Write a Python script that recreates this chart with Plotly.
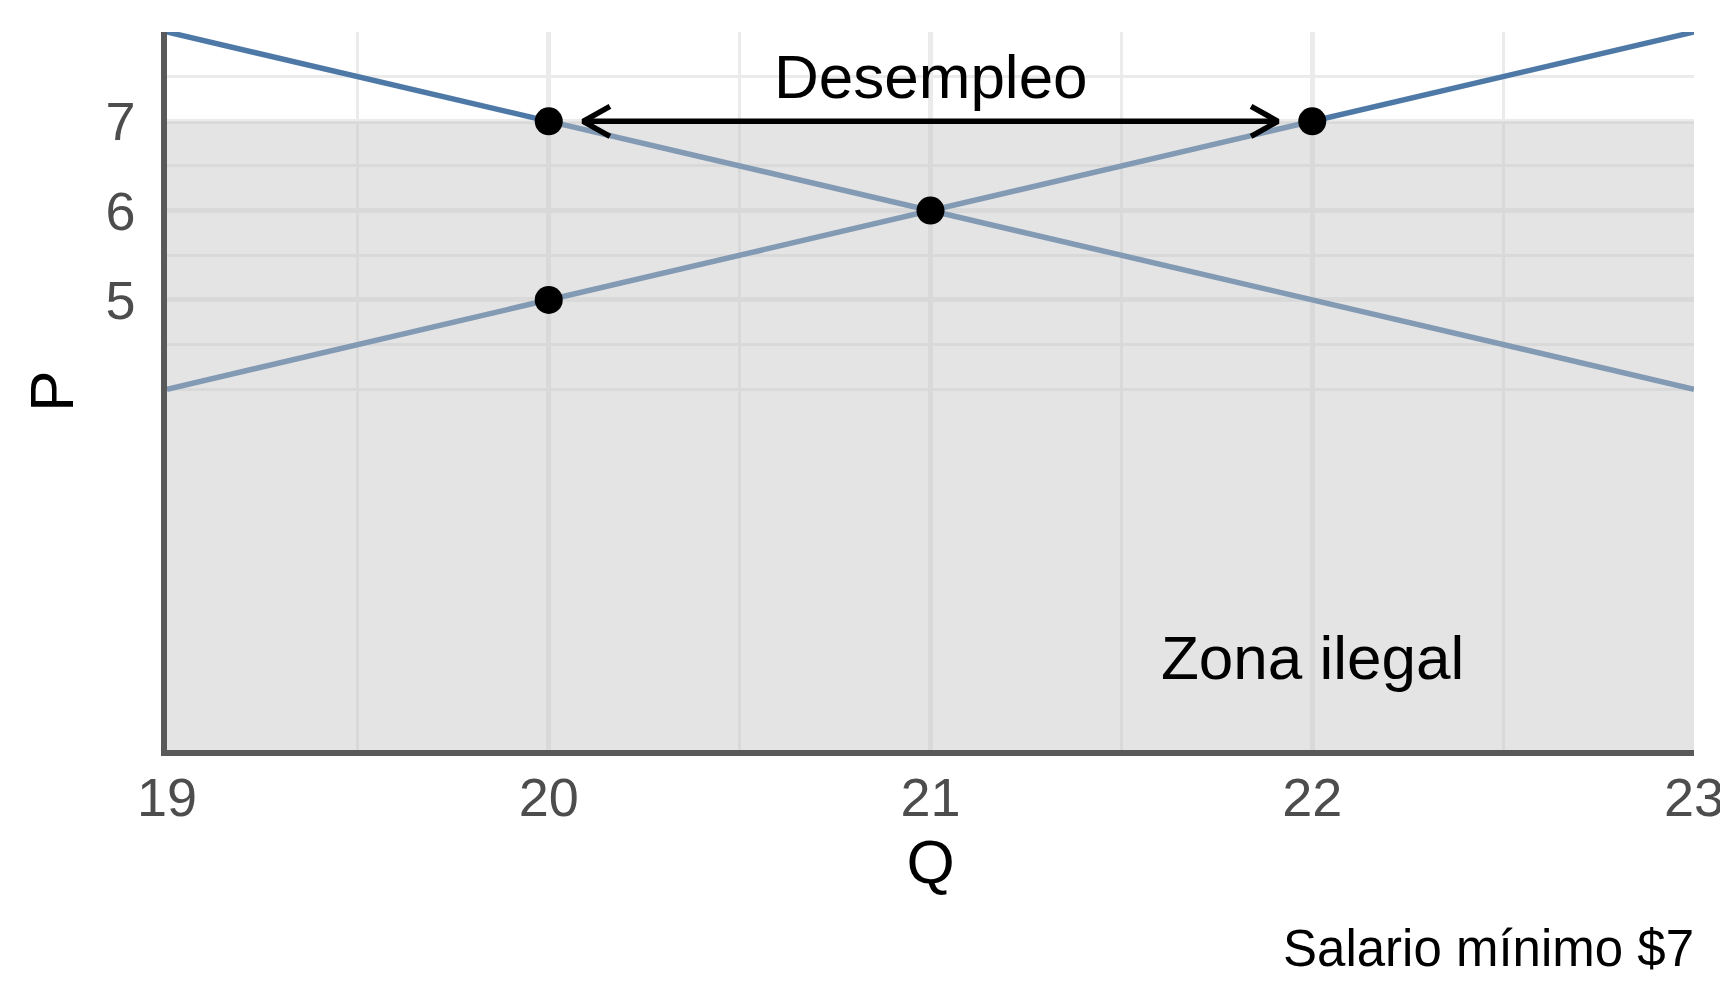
import plotly.graph_objects as go

# ---- data ----
q = [19, 20, 21, 22, 23]
demanda = [8, 7, 6, 5, 4]
oferta = [4, 5, 6, 7, 8]
puntos_q = [20, 21, 22, 20]
puntos_p = [7, 6, 7, 5]
salario_minimo = 7
flecha_q = [20.09, 21.91]
x_ticks = [19, 20, 21, 22, 23]
y_ticks = [5, 6, 7]
x_minor = [19.5, 20.5, 21.5, 22.5]
y_minor = [4, 4.5, 5.5, 6.5, 7.5, 8]
x_range = [19, 23]
y_range = [-0.04, 8]

# ---- layout geometry ----
W, H = 1728, 1000
ML, MR, MT, MB = 159, 32, 24, 258
PW, PH = W - ML - MR, H - MT - MB
px_x = (x_range[1] - x_range[0]) / PW
px_y = (y_range[1] - y_range[0]) / PH

FONT = "Liberation Sans, Arial, sans-serif"
LINE_COLOR = "#4E79A7"

fig = go.Figure()

# demand / supply lines
for serie in (demanda, oferta):
    fig.add_trace(go.Scatter(x=q, y=serie, mode="lines",
                             line=dict(color=LINE_COLOR, width=5.5), hoverinfo="skip",
                             showlegend=False))

# illegal zone (semi-transparent, drawn above the lines)
fig.add_trace(go.Scatter(
    x=[x_range[0], x_range[1], x_range[1], x_range[0], x_range[0]],
    y=[y_range[0] - 1, y_range[0] - 1, salario_minimo, salario_minimo, y_range[0] - 1],
    mode="lines", fill="toself", fillcolor="rgba(195,195,195,0.45)",
    line=dict(width=0), hoverinfo="skip", showlegend=False))

# double-headed arrow
back, half = 27, 15
ax, ay = [], []
ax += [flecha_q[0], flecha_q[1], None]
ay += [salario_minimo, salario_minimo, None]
ax += [flecha_q[0] + back * px_x, flecha_q[0], flecha_q[0] + back * px_x, None]
ay += [salario_minimo + half * px_y, salario_minimo, salario_minimo - half * px_y, None]
ax += [flecha_q[1] - back * px_x, flecha_q[1], flecha_q[1] - back * px_x]
ay += [salario_minimo + half * px_y, salario_minimo, salario_minimo - half * px_y]
fig.add_trace(go.Scatter(x=ax, y=ay, mode="lines",
                         line=dict(color="black", width=5.5), hoverinfo="skip",
                         showlegend=False))

# points
fig.add_trace(go.Scatter(x=puntos_q, y=puntos_p, mode="markers",
                         marker=dict(color="black", size=28, line=dict(width=0)),
                         showlegend=False))

fig.add_annotation(x=21, y=7.5, text="Desempleo", showarrow=False,
                   font=dict(family=FONT, size=62, color="black"),
                   xanchor="center", yanchor="middle")
fig.add_annotation(x=22, y=1.0, text="Zona ilegal", showarrow=False,
                   font=dict(family=FONT, size=62, color="black"),
                   xanchor="center", yanchor="middle")
fig.add_annotation(xref="paper", yref="paper",
                   x=1 + 2 / PW, y=-198 / PH,
                   text="Salario mínimo $7", showarrow=False,
                   font=dict(family=FONT, size=51, color="black"),
                   xanchor="right", yanchor="middle")

grid = "#ebebeb"
fig.update_layout(
    width=W, height=H,
    margin=dict(l=ML, r=MR, t=MT, b=MB),
    paper_bgcolor="white", plot_bgcolor="white",
    font=dict(family=FONT),
    xaxis=dict(range=x_range, tickvals=x_ticks, ticktext=[str(v) for v in x_ticks],
               showgrid=True, gridcolor=grid, gridwidth=4.5,
               minor=dict(tickvals=x_minor, showgrid=True, gridcolor=grid, gridwidth=2.5),
               zeroline=False, showline=True, linecolor="#595959", linewidth=5.5,
               ticks="", ticklabelstandoff=-5,
               tickfont=dict(family=FONT, size=54, color="#4d4d4d"),
               title=dict(text="Q", font=dict(family=FONT, size=62, color="black"), standoff=8)),
    yaxis=dict(range=y_range, tickvals=y_ticks, ticktext=[str(v) for v in y_ticks],
               showgrid=True, gridcolor=grid, gridwidth=4.5,
               minor=dict(tickvals=y_minor, showgrid=True, gridcolor=grid, gridwidth=2.5),
               zeroline=False, showline=True, linecolor="#595959", linewidth=5.5,
               ticks="", ticklabelstandoff=15,
               tickfont=dict(family=FONT, size=54, color="#4d4d4d"),
               title=dict(text="P", font=dict(family=FONT, size=62, color="black"), standoff=14)),
)

fig.write_html("out.html")
